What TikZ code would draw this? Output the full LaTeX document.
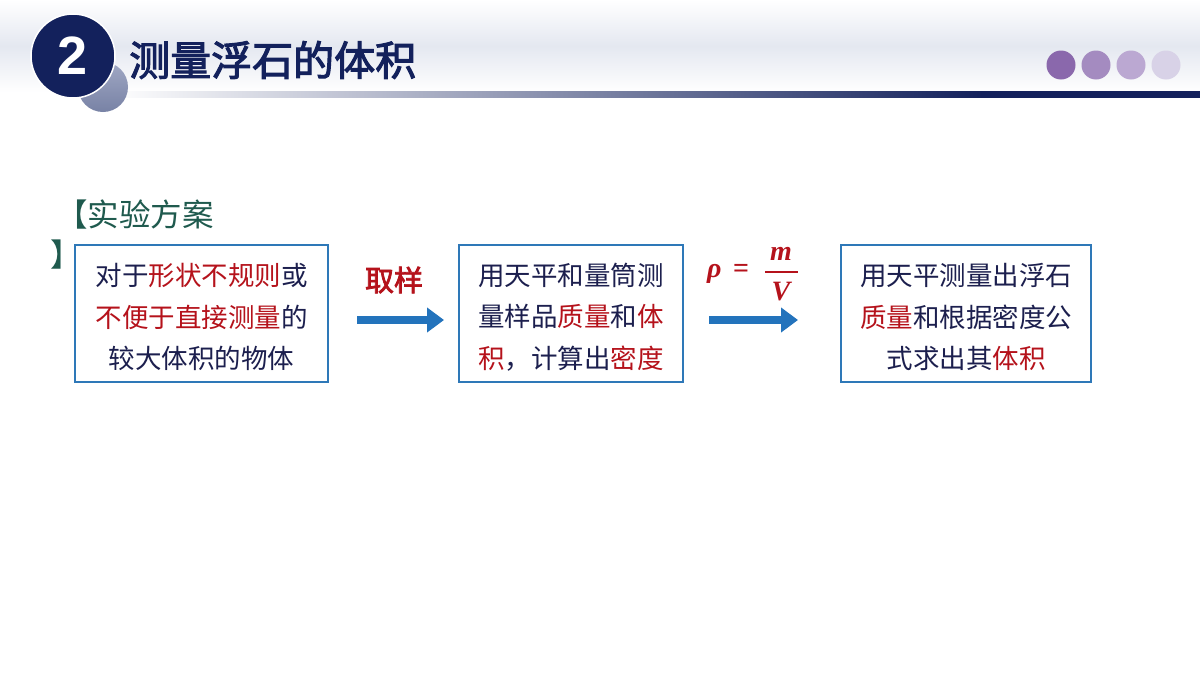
\documentclass[tikz,border=0pt]{standalone}
\usepackage{fontspec}
\setmainfont{Liberation Sans}
\newfontfamily\cjk{Noto Sans CJK SC}
\newfontfamily\cjkbold{Noto Sans CJK SC}[FakeBold=2.5]
\newfontfamily\serifbi{Liberation Serif}[UprightFont={* Bold Italic}]
\newfontfamily\serifb{Liberation Serif}[UprightFont={* Bold}]
\usetikzlibrary{arrows.meta,calc}
\definecolor{navy}{HTML}{13215C}
\definecolor{txt}{HTML}{1C1F4E}
\definecolor{hl}{HTML}{B5121B}
\definecolor{boxblue}{HTML}{2E78B8}
\definecolor{arrowblue}{HTML}{2373BC}
\definecolor{teal}{HTML}{1F5A4E}
\definecolor{dotA}{HTML}{8A68AC}
\definecolor{dotB}{HTML}{A48BC0}
\definecolor{dotC}{HTML}{BBA8D2}
\definecolor{dotD}{HTML}{D8D2E7}
\pgfdeclarehorizontalshading{headline}{100bp}{color(0bp)=(white); color(25bp)=(white); color(65bp)=(navy); color(75bp)=(navy); color(100bp)=(navy)}
\tikzset{
  stepbox/.style={draw=boxblue, line width=2.5pt, fill=white, minimum height=137pt, inner sep=0pt},
  boxtext/.style={font=\cjk\fontsize{26.5}{41.5}\selectfont, text=txt, align=center, inner sep=0pt},
  bigarrow/.style={draw=arrowblue, line width=8.5pt, -{Triangle[length=17pt,width=24pt]}},
  dot/.style={circle, minimum size=29pt, inner sep=0pt},
  fml/.style={text=hl, font=\serifbi\fontsize{28}{28}\selectfont, inner sep=0pt}
}
\newcommand{\hlt}[1]{\textcolor{hl}{#1}}
\begin{document}
\begin{tikzpicture}[x=1pt,y=-1pt]
\useasboundingbox (0,0) rectangle (1200,675);
\fill[white] (0,0) rectangle (1200,675);
% header band
\shade[top color=white, bottom color=white, middle color={rgb,255:red,228;green,232;blue,240}] (0,0) rectangle (1200,92);
\shade[shading=headline] (110,91) rectangle (1200,97);
% circles
\node[circle, minimum size=50pt, inner sep=0pt, shading=axis, top color={rgb,255:red,160;green,168;blue,196}, bottom color={rgb,255:red,120;green,130;blue,165}] (gc) at (103,87) {};
\node[circle, minimum size=84pt, inner sep=0pt, fill=navy, draw=white, line width=1.5pt] (nc) at (73,56) {};
\node[text=white, font=\bfseries\fontsize{54}{54}\selectfont] (num) at (nc) {2};
\node[anchor=west, text=navy, font=\cjkbold\fontsize{41}{41}\selectfont, inner sep=0pt] (title) at (129,60) {测量浮石的体积};
% dots
\node[dot, fill=dotA] (d1) at (1061,65) {};
\node[dot, fill=dotB] (d2) at (1096,65) {};
\node[dot, fill=dotC] (d3) at (1131,65) {};
\node[dot, fill=dotD] (d4) at (1166,65) {};
% label
\node[anchor=west, text=teal, font=\cjk\fontsize{31.5}{31.5}\selectfont, inner sep=0pt] (lab) at (56,215) {【实验方案};
\node[anchor=west, text=teal, font=\cjk\fontsize{31.5}{31.5}\selectfont, inner sep=0pt] (lab2) at (50,255) {】};
% boxes
\node[stepbox, minimum width=253pt] (b1) at (201.5,313.5) {};
\node[stepbox, minimum width=224pt] (b2) at (571,313.5) {};
\node[stepbox, minimum width=250pt] (b3) at (966,313.5) {};
\node[boxtext, yshift=-3.5pt] (b1t) at (b1) {对于\hlt{形状不规则}或\\\hlt{不便于直接测量}的\\较大体积的物体};
\node[boxtext, yshift=-3.5pt] (b2t) at (b2) {用天平和量筒测\\量样品\hlt{质量}和\hlt{体}\\\hlt{积}，计算出\hlt{密度}};
\node[boxtext, yshift=-3.5pt] (b3t) at (b3) {用天平测量出浮石\\\hlt{质量}和根据密度公\\式求出其\hlt{体积}};
% arrows
\coordinate (a1s) at (357,320);
\coordinate (a1e) at (444,320);
\coordinate (a2s) at (709,320);
\coordinate (a2e) at (798,320);
\draw[bigarrow] (a1s) -- (a1e);
\draw[bigarrow] (a2s) -- (a2e);
\node[text=hl, font=\cjkbold\fontsize{29}{29}\selectfont] (qy) at (394,280) {取样};
% formula
\node[fml, anchor=west] (rho) at (707,274) {ρ};
\node[fml, font=\serifb\fontsize{28}{28}\selectfont, anchor=west] (eq) at (733,271) {=};
\draw[hl, line width=1.3pt] (765,272) -- (798,272);
\node[fml] (mm) at (781,254) {m};
\node[fml] (vv) at (781,292) {V};
\end{tikzpicture}
\end{document}
